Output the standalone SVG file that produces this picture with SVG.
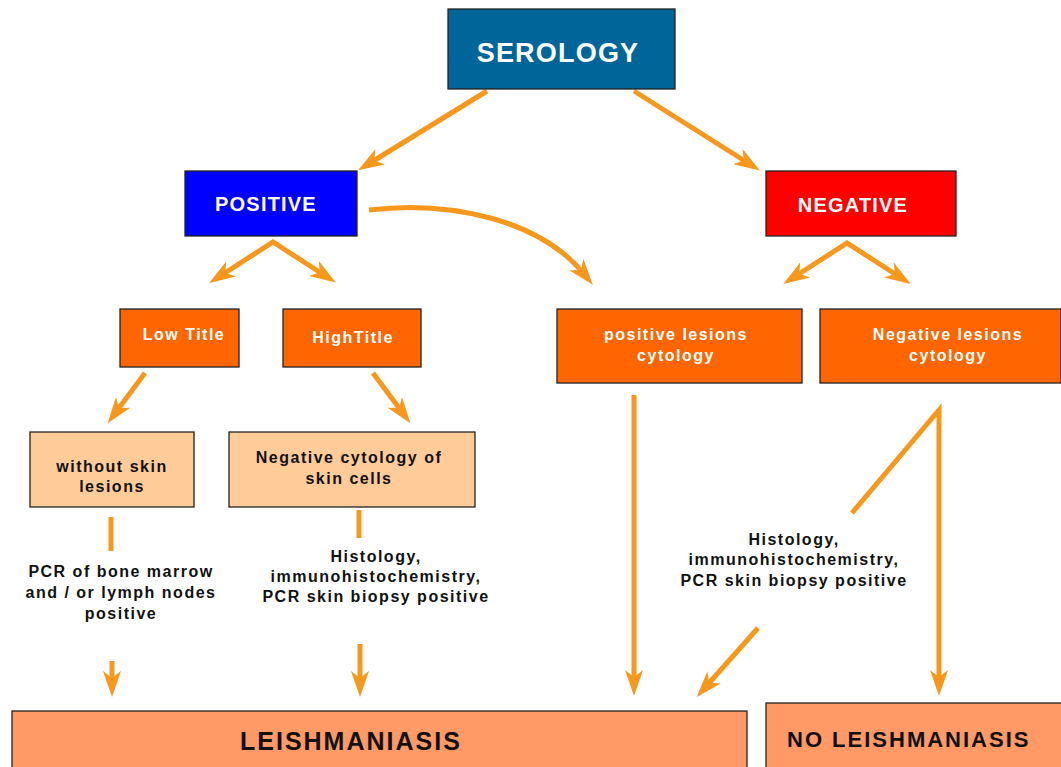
<svg xmlns="http://www.w3.org/2000/svg" width="1061" height="767" viewBox="0 0 1061 767">
<style>
.box{stroke:#222;stroke-width:1.3}
.t{font-family:"Liberation Sans",Arial,sans-serif;font-weight:bold}
.w{fill:#fff}
.k{fill:#111}
.s16{font-size:16px;letter-spacing:1.5px}
.c{stroke:#F7981D;stroke-width:5;fill:none}
</style>
<defs>
<marker id="ah" markerUnits="userSpaceOnUse" viewBox="0 0 26 18" markerWidth="26" markerHeight="18" refX="12" refY="9" orient="auto-start-reverse">
<path d="M0,0 L26,9 L0,18 L7,9 z" fill="#F7981D"/>
</marker>
</defs>
<rect width="1061" height="767" fill="#fff"/>
<g id="connectors">
<line class="c" x1="487" y1="91" x2="370" y2="163" marker-end="url(#ah)"/>
<line class="c" x1="634" y1="91" x2="748" y2="163" marker-end="url(#ah)"/>
<path class="c" d="M221,275.5 L273,242 L324,275" marker-start="url(#ah)" marker-end="url(#ah)"/>
<path class="c" d="M795,276.5 L847,243 L899,276.5" marker-start="url(#ah)" marker-end="url(#ah)"/>
<line class="c" x1="145" y1="373" x2="116" y2="412" marker-end="url(#ah)"/>
<line class="c" x1="373" y1="373" x2="402" y2="412" marker-end="url(#ah)"/>
<path class="c" d="M369,210 C450,200 540,220 584,274" marker-end="url(#ah)"/>
<line class="c" x1="634" y1="395" x2="634" y2="682" marker-end="url(#ah)"/>
<path class="c" d="M852,513 L939,410 L939,682" marker-end="url(#ah)"/>
<line class="c" x1="758" y1="628" x2="706" y2="686.5" marker-end="url(#ah)"/>
<line class="c" x1="112" y1="661" x2="112" y2="683" marker-end="url(#ah)"/>
<line class="c" x1="360" y1="644" x2="360" y2="683" marker-end="url(#ah)"/>
<line class="c" x1="111" y1="517" x2="111" y2="551"/>
<line class="c" x1="359" y1="510" x2="359" y2="538"/>
</g>
<g id="serology">
<rect class="box" x="448" y="9" width="227" height="80" fill="#006699"/>
<text class="t w" x="558" y="62" font-size="27" letter-spacing="1.2" text-anchor="middle">SEROLOGY</text>
</g>
<g id="positive">
<rect class="box" x="185" y="171" width="172" height="65" fill="#0000FF"/>
<text class="t w" x="266" y="211" font-size="20" letter-spacing="1.2" text-anchor="middle">POSITIVE</text>
</g>
<g id="negative">
<rect class="box" x="766" y="171" width="190" height="65" fill="#FF0000"/>
<text class="t w" x="853" y="212" font-size="20" letter-spacing="1.2" text-anchor="middle">NEGATIVE</text>
</g>
<g id="low-title">
<rect class="box" x="120" y="309" width="119" height="58" fill="#FF6600"/>
<text class="t w s16" x="184" y="340" text-anchor="middle">Low Title</text>
</g>
<g id="high-title">
<rect class="box" x="283" y="309" width="138" height="58" fill="#FF6600"/>
<text class="t w s16" x="353" y="343" text-anchor="middle">HighTitle</text>
</g>
<g id="positive-lesions">
<rect class="box" x="557" y="309" width="245" height="74" fill="#FF6600"/>
<text class="t w s16" x="676" y="340" text-anchor="middle">positive lesions</text>
<text class="t w s16" x="676" y="361" text-anchor="middle">cytology</text>
</g>
<g id="negative-lesions">
<rect class="box" x="820" y="309" width="241" height="74" fill="#FF6600"/>
<text class="t w s16" x="948" y="340" text-anchor="middle">Negative lesions</text>
<text class="t w s16" x="948" y="361" text-anchor="middle">cytology</text>
</g>
<g id="without-skin">
<rect class="box" x="30" y="432" width="164" height="75" fill="#FFCC99"/>
<text class="t k s16" x="112" y="472" text-anchor="middle">without skin</text>
<text class="t k s16" x="112" y="492" text-anchor="middle">lesions</text>
</g>
<g id="neg-cytology">
<rect class="box" x="229" y="432" width="246" height="75" fill="#FFCC99"/>
<text class="t k s16" x="349" y="463" text-anchor="middle">Negative cytology of</text>
<text class="t k s16" x="349" y="484" text-anchor="middle">skin cells</text>
</g>
<g id="pcr-label">
<text class="t k s16" x="121" y="577" text-anchor="middle">PCR of bone marrow</text>
<text class="t k s16" x="121" y="598" text-anchor="middle">and / or lymph nodes</text>
<text class="t k s16" x="121" y="619" text-anchor="middle">positive</text>
</g>
<g id="histology-label-1">
<text class="t k s16" x="376" y="562" text-anchor="middle">Histology,</text>
<text class="t k s16" x="376" y="582" text-anchor="middle">immunohistochemistry,</text>
<text class="t k s16" x="376" y="602" text-anchor="middle">PCR skin biopsy positive</text>
</g>
<g id="histology-label-2">
<text class="t k s16" x="794" y="545" text-anchor="middle">Histology,</text>
<text class="t k s16" x="794" y="565" text-anchor="middle">immunohistochemistry,</text>
<text class="t k s16" x="794" y="586" text-anchor="middle">PCR skin biopsy positive</text>
</g>
<g id="leishmaniasis">
<rect class="box" x="12" y="711" width="735" height="80" fill="#FF9966"/>
<text class="t k" x="240" y="750" font-size="25" letter-spacing="2">LEISHMANIASIS</text>
</g>
<g id="no-leishmaniasis">
<rect class="box" x="766" y="703" width="300" height="90" fill="#FF9966"/>
<text class="t k" x="787" y="747" font-size="22" letter-spacing="2">NO LEISHMANIASIS</text>
</g>
</svg>
